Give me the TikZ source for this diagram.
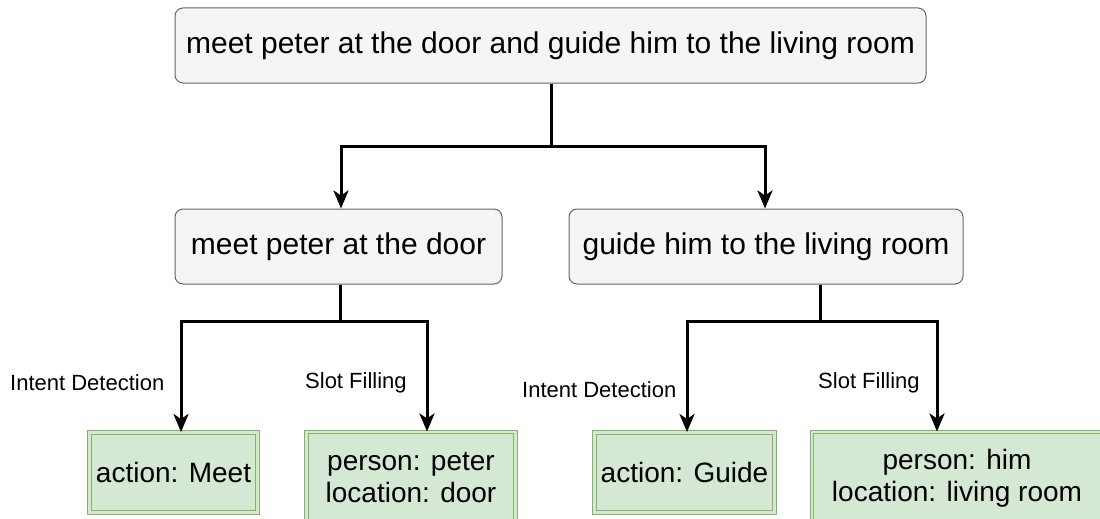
\documentclass[tikz,border=0pt]{standalone}
\usepackage{fontspec}
\setmainfont{Liberation Sans}
\usetikzlibrary{arrows.meta}
\definecolor{boxfill}{HTML}{F5F5F5}
\definecolor{boxline}{HTML}{666666}
\definecolor{slotfill}{HTML}{D5E8D4}
\definecolor{slotline}{HTML}{82B366}
\begin{document}
\begin{tikzpicture}[x=1pt,y=-1pt,
  phrase/.style={draw=boxline, fill=boxfill, rounded corners=8pt, line width=1pt,
    inner sep=0pt, font=\fontsize{30}{36}\selectfont},
  slot/.style={draw=slotline, fill=slotfill, line width=1pt, double=slotfill,
    double distance=2.5pt, inner sep=0pt, align=center, font=\fontsize{28}{32}\selectfont},
  tag/.style={font=\fontsize{22}{26}\selectfont, inner sep=0pt},
  link/.style={line width=3pt},
  arr/.style={line width=3pt, -{Stealth[length=18pt, width=15pt, inset=5pt]}}]
\useasboundingbox (0,0) rectangle (1100,519);
% sentence nodes
\node[phrase, minimum width=751pt, minimum height=75pt] (full) at (550.5,45.5)
  {meet peter at the door and guide him to the living room};
\node[phrase, minimum width=327pt, minimum height=75pt] (meet) at (338.5,246.5)
  {meet peter at the door};
\node[phrase, minimum width=394pt, minimum height=75pt] (guide) at (766,246.5)
  {guide him to the living room};
% result nodes
\node[slot, minimum width=168pt, minimum height=80pt] (actM) at (173.5,472.5) {action: Meet};
\node[slot, minimum width=209pt, minimum height=92pt] (slotM) at (411,478) {person: peter\\location: door};
\node[slot, minimum width=180pt, minimum height=80pt] (actG) at (684.5,472.5) {action: Guide};
\node[slot, minimum width=290pt, minimum height=92pt] (slotG) at (957,478) {person: him\\location: living room};
% branch points
\coordinate (j0) at (551,146);
\coordinate (j1) at (340,321);
\coordinate (j2) at (820,321);
% connectors
\draw[link] (full.south -| j0) -- (j0);
\draw[arr] (j0) -| (meet.north -| 341,0);
\draw[arr] (j0) -| (guide.north -| 765,0);
\draw[link] (meet.south -| j1) -- (j1);
\draw[arr] (j1) -| (actM.north -| 181,0);
\draw[arr] (j1) -| (slotM.north -| 427,0);
\draw[link] (guide.south -| j2) -- (j2);
\draw[arr] (j2) -| (actG.north -| 687,0);
\draw[arr] (j2) -| (slotG.north -| 937,0);
% edge labels
\node[tag, anchor=west] (l1) at (10,383) {Intent Detection};
\node[tag, anchor=west] (l2) at (305,383) {Slot Filling};
\node[tag, anchor=west] (l3) at (522,390) {Intent Detection};
\node[tag, anchor=west] (l4) at (818,383) {Slot Filling};
\end{tikzpicture}
\end{document}
